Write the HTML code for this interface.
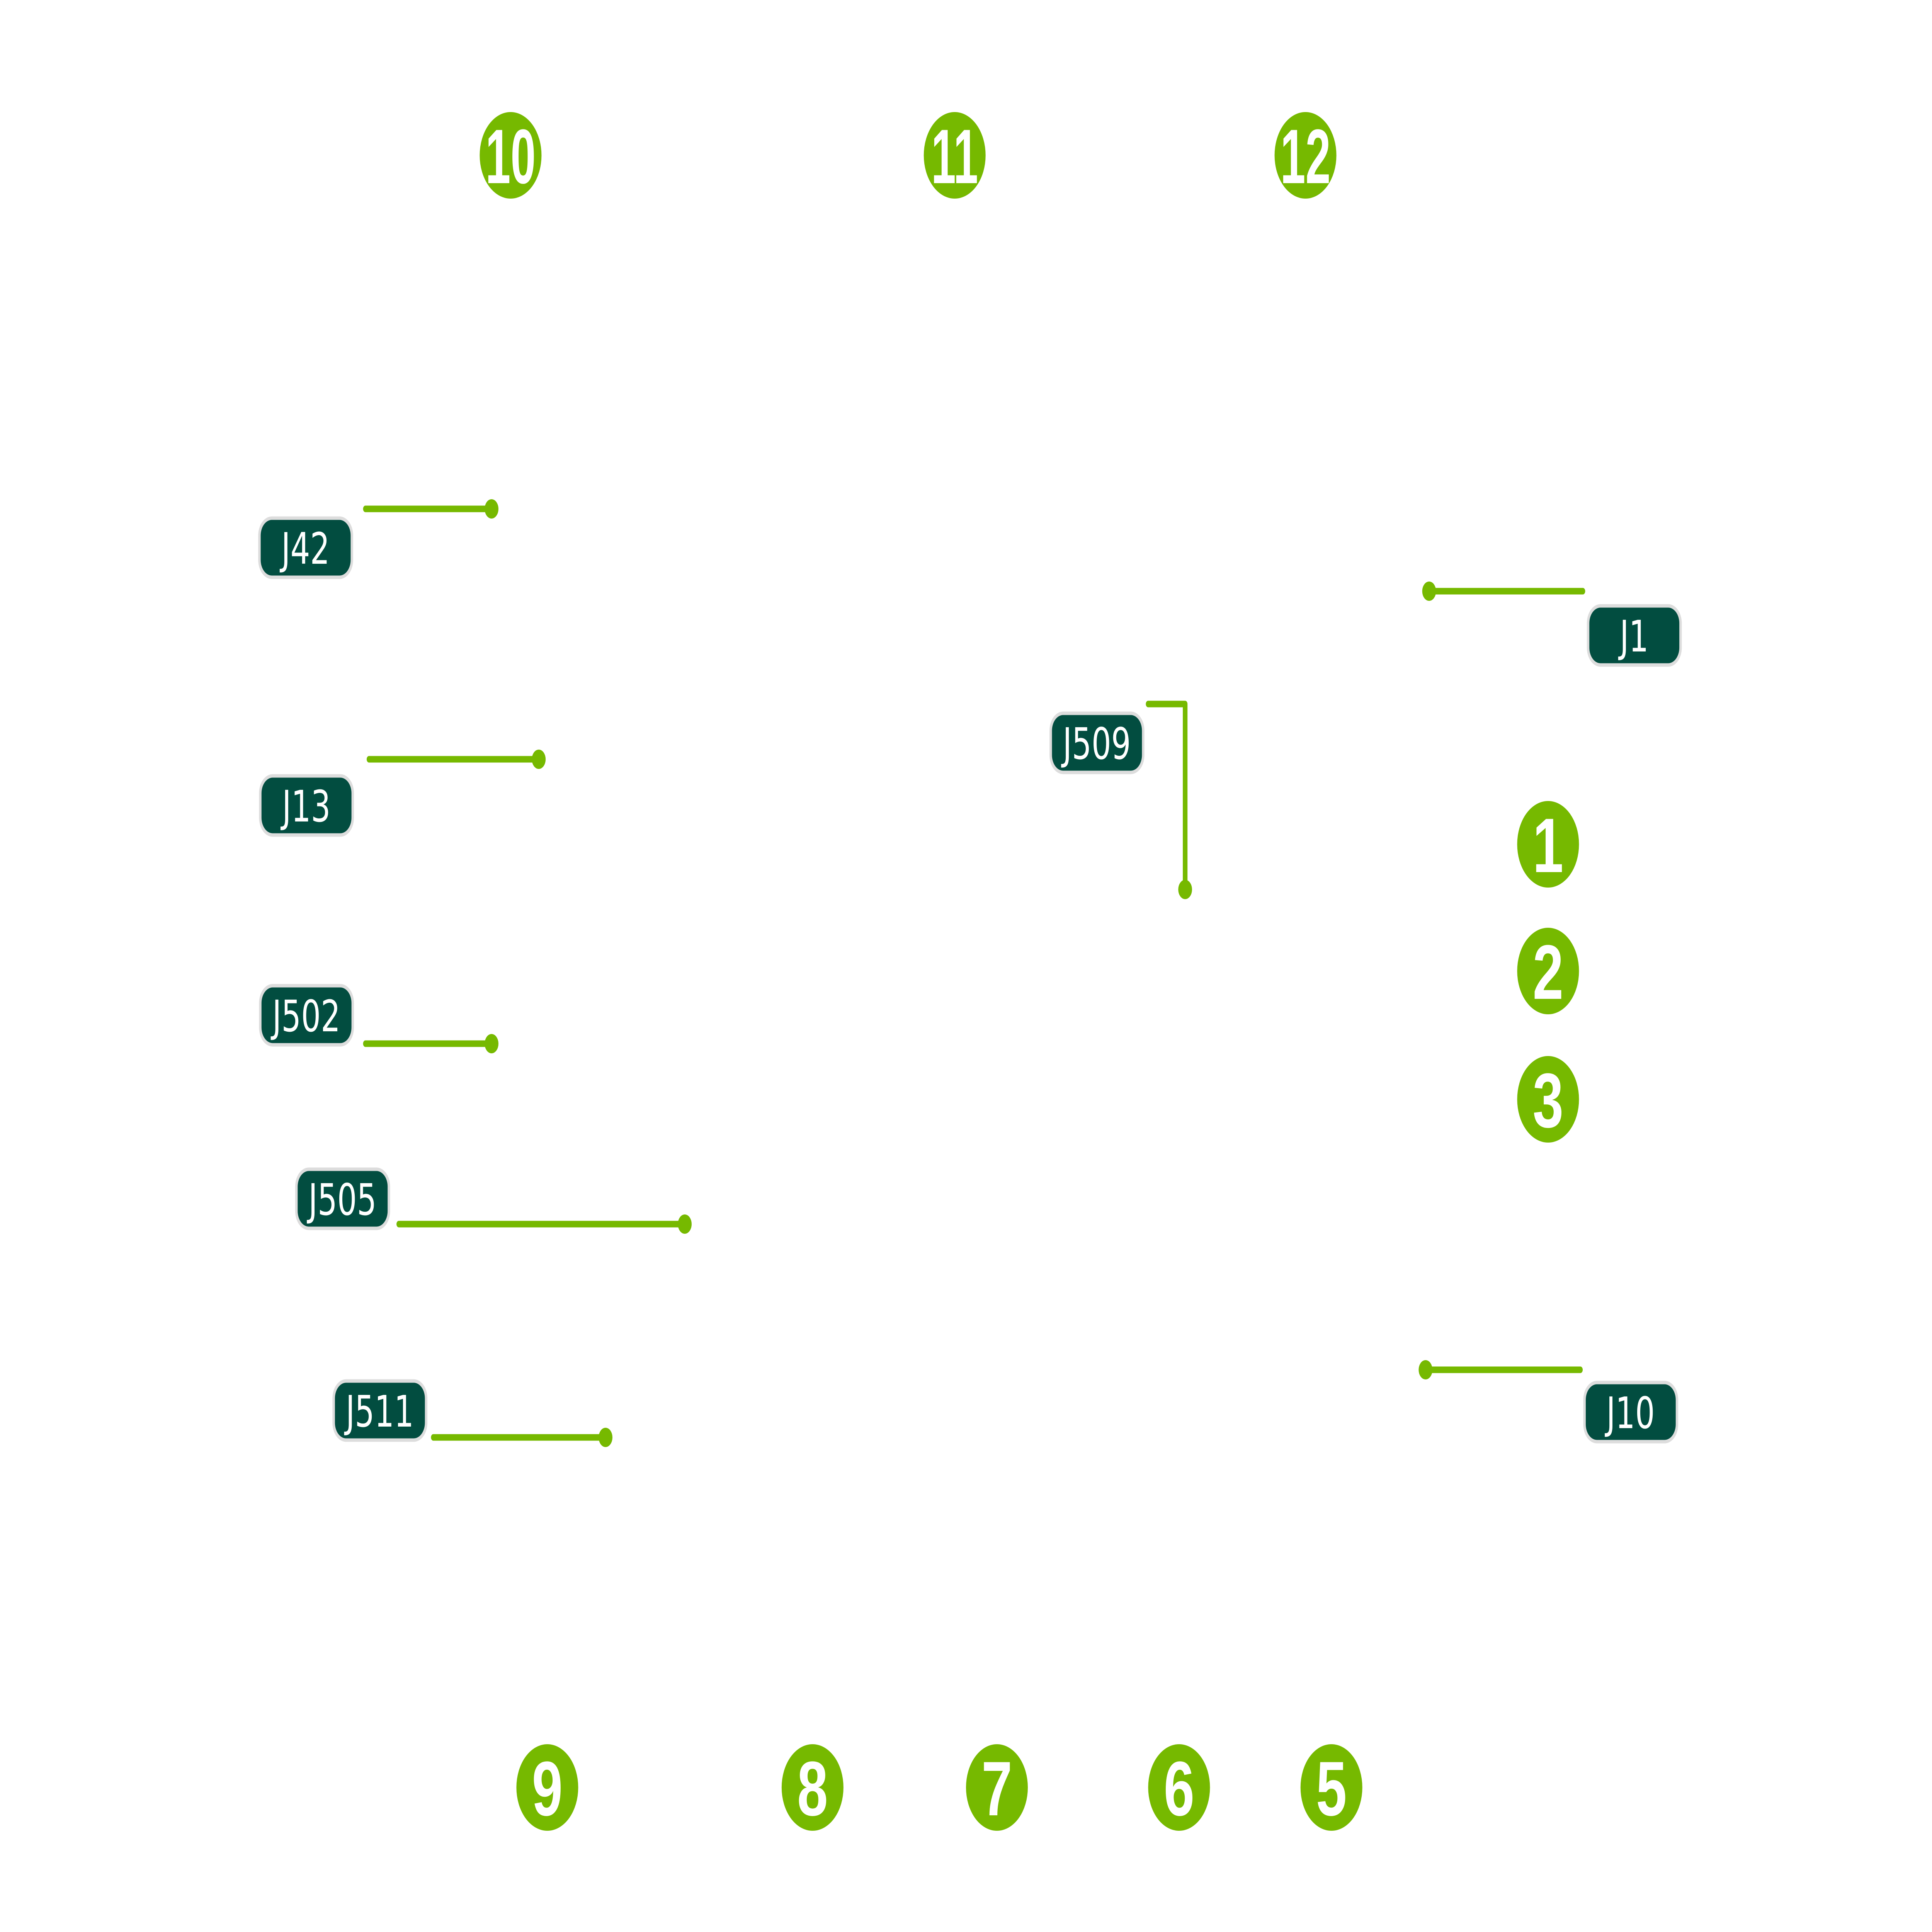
<!DOCTYPE html>
<html><head><meta charset="utf-8"><style>
html,body{margin:0;padding:0;background:#fff;width:100%;height:100%;overflow:hidden}
svg{display:block;width:100vw;height:100vh}
.lb{fill:#024d40;stroke:#dddddd;stroke-width:9}
.lt{font-family:"DejaVu Sans","Liberation Sans",sans-serif;font-size:112px;fill:#fff;text-anchor:middle}
.ln{stroke:#76b900;stroke-width:17;stroke-linecap:round;fill:none;stroke-linejoin:round}
.dt{fill:#76b900}
.c{fill:#76b900}
.ct{font-family:"Liberation Sans",Arial,sans-serif;font-weight:bold;font-size:200px;fill:#fff;text-anchor:middle}
</style></head><body>
<svg viewBox="0 0 7000 5000" preserveAspectRatio="none" xmlns="http://www.w3.org/2000/svg">
<g>
<circle class="c" cx="1850" cy="402" r="112"/><text class="ct" x="1850" y="474" textLength="182" lengthAdjust="spacingAndGlyphs">10</text>
<circle class="c" cx="3459" cy="402" r="112"/><text class="ct" x="3459" y="474" textLength="170" lengthAdjust="spacingAndGlyphs">11</text>
<circle class="c" cx="4730" cy="402" r="112"/><text class="ct" x="4730" y="474" textLength="182" lengthAdjust="spacingAndGlyphs">12</text>
<circle class="c" cx="5609" cy="2185" r="112"/><text class="ct" x="5609" y="2257">1</text>
<circle class="c" cx="5609" cy="2513" r="112"/><text class="ct" x="5609" y="2585">2</text>
<circle class="c" cx="5609" cy="2845" r="112"/><text class="ct" x="5609" y="2917">3</text>
<circle class="c" cx="1983" cy="4626" r="112"/><text class="ct" x="1983" y="4698">9</text>
<circle class="c" cx="2944" cy="4626" r="112"/><text class="ct" x="2944" y="4698">8</text>
<circle class="c" cx="3612" cy="4626" r="112"/><text class="ct" x="3612" y="4698">7</text>
<circle class="c" cx="4272" cy="4626" r="112"/><text class="ct" x="4272" y="4698">6</text>
<circle class="c" cx="4824" cy="4626" r="112"/><text class="ct" x="4824" y="4698">5</text>
</g>
<line class="ln" x1="1324" y1="1317" x2="1781" y2="1317"/><circle class="dt" cx="1781" cy="1317" r="25"/>
<line class="ln" x1="1337" y1="1965" x2="1952" y2="1965"/><circle class="dt" cx="1952" cy="1965" r="25"/>
<line class="ln" x1="1324" y1="2701" x2="1781" y2="2701"/><circle class="dt" cx="1781" cy="2701" r="25"/>
<line class="ln" x1="1445" y1="3168" x2="2481" y2="3168"/><circle class="dt" cx="2481" cy="3168" r="25"/>
<line class="ln" x1="1570" y1="3720" x2="2194" y2="3720"/><circle class="dt" cx="2194" cy="3720" r="25"/>
<polyline class="ln" points="4160,1822 4294,1822 4294,2302"/><circle class="dt" cx="4294" cy="2302" r="25"/>
<line class="ln" x1="5178" y1="1530" x2="5735" y2="1530"/><circle class="dt" cx="5178" cy="1530" r="25"/>
<line class="ln" x1="5165" y1="3545" x2="5726" y2="3545"/><circle class="dt" cx="5165" cy="3545" r="25"/>
<rect class="lb" x="940" y="1341" width="335" height="153" rx="45"/><text class="lt" x="1107" y="1459">J42</text>
<rect class="lb" x="943" y="2008" width="335" height="153" rx="45"/><text class="lt" x="1110" y="2126">J13</text>
<rect class="lb" x="943" y="2551" width="335" height="153" rx="45"/><text class="lt" x="1110" y="2669">J502</text>
<rect class="lb" x="1074" y="3026" width="335" height="153" rx="45"/><text class="lt" x="1241" y="3144">J505</text>
<rect class="lb" x="1209" y="3574" width="335" height="153" rx="45"/><text class="lt" x="1376" y="3692">J511</text>
<rect class="lb" x="3807" y="1846" width="335" height="153" rx="45"/><text class="lt" x="3974" y="1964">J509</text>
<rect class="lb" x="5754" y="1568" width="335" height="153" rx="45"/><text class="lt" x="5921" y="1686">J1</text>
<rect class="lb" x="5741" y="3578" width="335" height="153" rx="45"/><text class="lt" x="5908" y="3696">J10</text>
</svg>
</body></html>
